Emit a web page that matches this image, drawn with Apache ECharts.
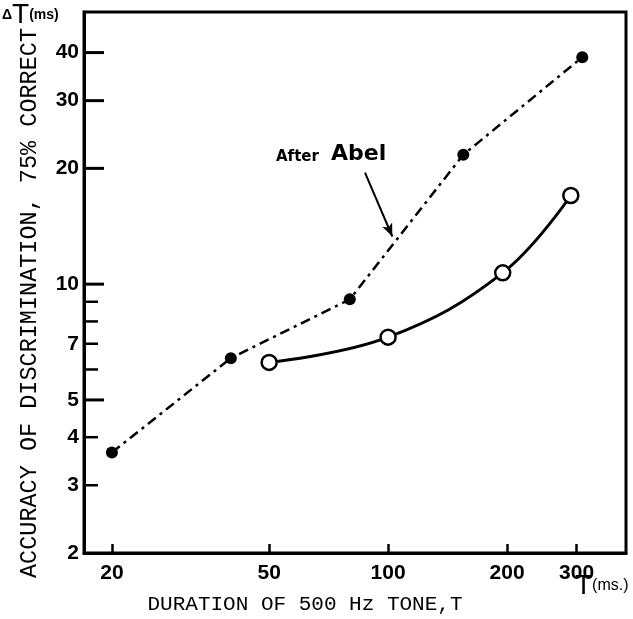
<!DOCTYPE html>
<html>
<head>
<meta charset="utf-8">
<script src="https://cdn.jsdelivr.net/npm/echarts@6/dist/echarts.min.js"></script>
<style>
html,body{margin:0;padding:0;background:#fff;}
#chart{width:633px;height:619px;}
</style>
</head>
<body>
<div id="chart"></div>
<script>
// ---- data ----
const xTickValues = [20, 50, 100, 200, 300];
const yTickValues = [3, 4, 5, 6, 7, 8, 9, 10, 20, 30, 40];
const yLongTicks = [5, 10, 20, 30, 40];
const yLabelValues = [2, 3, 4, 5, 7, 10, 20, 30, 40];

const abelT  = [20, 40, 80, 155, 310];
const abelDT = [3.65, 6.42, 9.13, 21.7, 38.9];

const ownT  = [50, 100, 195, 290];
const ownDT = [6.26, 7.28, 10.7, 17.0];

const arrowFrom = [87.4, 19.5];
const arrowTo   = [102.5, 13.3];

const xTitle = 'DURATION OF 500 Hz TONE,T';
const yTitle = 'ACCURACY OF DISCRIMINATION, 75% CORRECT';

// ---- chart ----
const X_MIN = 17, X_MAX = 400, Y_MIN = 2, Y_MAX = 51;
const chart = echarts.init(document.getElementById('chart'), null, {renderer: 'canvas'});
const labelFont = {fontFamily: '"Liberation Sans Narrow", "Arial Narrow", "Liberation Sans", sans-serif', fontWeight: 'bold', fontSize: 21, color: '#000'};

const option = {
  backgroundColor: '#fff',
  animation: false,
  grid: {left: 84, right: 7, top: 12, bottom: 66, show: true, borderColor: '#000', borderWidth: 3},
  xAxis: [{
    type: 'log', min: X_MIN, max: X_MAX, position: 'bottom',
    axisLine: {show: true, lineStyle: {color: '#000', width: 3}},
    axisTick: {show: true, inside: true, length: 9, lineStyle: {color: '#000', width: 2.5}, customValues: xTickValues},
    axisLabel: Object.assign({show: true, margin: 10, customValues: xTickValues}, labelFont),
    splitLine: {show: false}, minorTick: {show: false}
  }],
  yAxis: [{
    type: 'log', min: Y_MIN, max: Y_MAX, position: 'left',
    axisLine: {show: true, lineStyle: {color: '#000', width: 3}},
    axisTick: {show: false},
    axisLabel: Object.assign({show: true, margin: 5, customValues: yLabelValues}, labelFont),
    splitLine: {show: false}
  }],
  series: [{
    name: 'yTicks', type: 'custom', coordinateSystem: 'cartesian2d',
    silent: true, clip: false, z: 5,
    data: yTickValues.map(v => [X_MIN, v]),
    renderItem: function (params, api) {
      const v = api.value(1);
      const p = api.coord([api.value(0), v]);
      const long = yLongTicks.indexOf(v) >= 0;
      const len = long ? 20 : 14;
      return {type: 'line', shape: {x1: p[0], y1: p[1], x2: p[0] + len, y2: p[1]},
              style: {stroke: '#000', lineWidth: long ? 3 : 2.5}};
    }
  }, {
    name: 'After Abel', type: 'line',
    data: abelT.map((t, i) => [t, abelDT[i]]),
    symbol: 'circle', symbolSize: 12,
    itemStyle: {color: '#000'},
    lineStyle: {color: '#000', width: 2.5, type: [10, 5, 3, 5]},
    markLine: {
      silent: true, symbol: ['none', 'arrow'], symbolSize: [8, 13],
      label: {show: false},
      lineStyle: {color: '#000', width: 2, type: 'solid'},
      data: [[{coord: arrowFrom}, {coord: arrowTo}]]
    }
  }, {
    name: 'Present', type: 'line',
    data: ownT.map((t, i) => [t, ownDT[i]]),
    smooth: 0.4,
    symbol: 'circle', symbolSize: 15,
    itemStyle: {color: '#fff', borderColor: '#000', borderWidth: 2.5},
    lineStyle: {color: '#000', width: 3, type: 'solid'}
  }],
  graphic: [
    {type: 'text', left: 276, top: 150, style: {text: 'After', font: 'bold 15px "DejaVu Sans"', fill: '#000'}},
    {type: 'text', left: 331, top: 143, style: {text: 'Abel', font: 'bold 22px "DejaVu Sans"', fill: '#000'}},
    {type: 'text', left: 2, top: 1, style: {
      text: '{d|Δ}{t|T}{m|(ms)}',
      rich: {
        d: {fontFamily: 'Liberation Sans', fontWeight: 'bold', fontSize: 14, fill: '#000', verticalAlign: 'middle'},
        t: {fontFamily: 'Liberation Sans', fontSize: 28, fill: '#000', verticalAlign: 'middle'},
        m: {fontFamily: 'Liberation Sans', fontWeight: 'bold', fontSize: 14, fill: '#000', verticalAlign: 'middle'}
      }}},
    {type: 'text', left: 575, top: 572, style: {
      text: '{t|T}{m|(ms.)}',
      rich: {
        t: {fontFamily: 'Liberation Sans', fontSize: 28, fill: '#000', verticalAlign: 'middle'},
        m: {fontFamily: 'Liberation Sans', fontSize: 16, fill: '#000', verticalAlign: 'middle'}
      }}},
    {type: 'text', x: 305, y: 604, style: {text: xTitle, font: '21px "Liberation Mono"', fill: '#000', align: 'center', verticalAlign: 'middle'}},
    {type: 'text', x: 30, y: 303, rotation: Math.PI / 2, style: {text: yTitle, font: '23.5px "Liberation Mono"', fill: '#000', align: 'center', verticalAlign: 'middle'}}
  ]
};
chart.setOption(option);
</script>
</body>
</html>
